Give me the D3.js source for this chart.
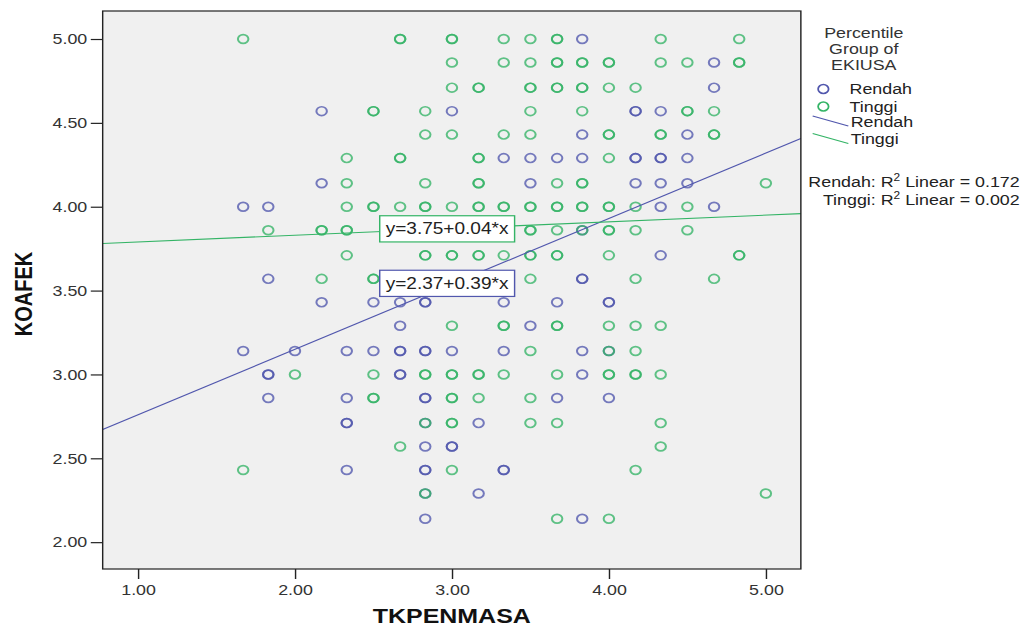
<!DOCTYPE html>
<html>
<head>
<meta charset="utf-8">
<script src="https://cdn.jsdelivr.net/npm/d3@7"></script>
<style>
  body { margin: 0; background: #fff; }
  svg { display: block; font-family: "Liberation Sans", Arial, sans-serif; }
</style>
</head>
<body>
<script>
// tick values
let xTicks = [1, 2, 3, 4, 5];
let yTicks = [2, 2.5, 3, 3.5, 4, 4.5, 5];

// Percentile group "Rendah" (TKPENMASA, KOAFEK); repeated pairs = overlapping cases
let rendahPoints = [
  [3.83,5.00],
  [4.67,4.86],
  [4.67,4.71],
  [2.17,4.57],[3.00,4.57],[4.17,4.57],[4.17,4.57],[4.33,4.57],
  [3.83,4.43],[4.50,4.43],
  [3.33,4.29],[3.50,4.29],[3.67,4.29],[3.83,4.29],[4.17,4.29],[4.17,4.29],[4.33,4.29],[4.33,4.29],[4.50,4.29],
  [2.17,4.14],[3.50,4.14],[4.17,4.14],[4.33,4.14],[4.50,4.14],
  [1.67,4.00],[1.83,4.00],[4.33,4.00],[4.67,4.00],
  [3.83,3.86],
  [4.33,3.71],
  [1.83,3.57],[3.83,3.57],[3.83,3.57],
  [2.17,3.43],[2.50,3.43],[2.67,3.43],[2.83,3.43],[2.83,3.43],[3.33,3.43],[3.67,3.43],[4.00,3.43],[4.00,3.43],
  [2.67,3.29],[3.50,3.29],
  [1.67,3.14],[2.00,3.14],[2.33,3.14],[2.50,3.14],[2.67,3.14],[2.67,3.14],[2.83,3.14],[2.83,3.14],[3.00,3.14],[3.33,3.14],[3.83,3.14],[4.00,3.14],
  [1.83,3.00],[1.83,3.00],[2.67,3.00],[2.67,3.00],[3.83,3.00],
  [1.83,2.86],[2.33,2.86],[2.83,2.86],[2.83,2.86],[3.67,2.86],[4.00,2.86],
  [2.33,2.71],[2.33,2.71],[2.83,2.71],[3.17,2.71],
  [2.83,2.57],[3.00,2.57],[3.00,2.57],
  [2.33,2.43],[2.83,2.43],[2.83,2.43],[3.33,2.43],[3.33,2.43],
  [2.83,2.29],[3.17,2.29],
  [2.83,2.14],[3.83,2.14]
];

// Percentile group "Tinggi"
let tinggiPoints = [
  [1.67,5.00],[2.67,5.00],[2.67,5.00],[3.00,5.00],[3.00,5.00],[3.33,5.00],[3.50,5.00],[3.67,5.00],[3.67,5.00],[4.33,5.00],[4.83,5.00],
  [3.00,4.86],[3.33,4.86],[3.50,4.86],[3.67,4.86],[3.67,4.86],[3.83,4.86],[3.83,4.86],[4.00,4.86],[4.00,4.86],[4.33,4.86],[4.50,4.86],[4.83,4.86],[4.83,4.86],
  [3.00,4.71],[3.17,4.71],[3.17,4.71],[3.50,4.71],[3.50,4.71],[3.67,4.71],[3.67,4.71],[3.83,4.71],[3.83,4.71],[4.00,4.71],[4.17,4.71],
  [2.50,4.57],[2.50,4.57],[2.83,4.57],[3.50,4.57],[3.83,4.57],[4.50,4.57],[4.50,4.57],[4.67,4.57],
  [2.83,4.43],[3.00,4.43],[3.33,4.43],[3.50,4.43],[4.00,4.43],[4.00,4.43],[4.33,4.43],[4.33,4.43],[4.67,4.43],[4.67,4.43],
  [2.33,4.29],[2.67,4.29],[2.67,4.29],[3.17,4.29],[3.17,4.29],[4.00,4.29],
  [2.33,4.14],[2.83,4.14],[3.17,4.14],[3.17,4.14],[3.67,4.14],[3.83,4.14],[3.83,4.14],[5.00,4.14],
  [2.33,4.00],[2.50,4.00],[2.50,4.00],[2.67,4.00],[2.83,4.00],[2.83,4.00],[3.00,4.00],[3.17,4.00],[3.17,4.00],[3.33,4.00],[3.33,4.00],
  [3.50,4.00],[3.50,4.00],[3.67,4.00],[3.67,4.00],[3.83,4.00],[3.83,4.00],[4.00,4.00],[4.00,4.00],[4.17,4.00],[4.50,4.00],
  [1.83,3.86],[2.17,3.86],[2.17,3.86],[2.33,3.86],[2.33,3.86],[3.50,3.86],[3.50,3.86],[3.67,3.86],[3.83,3.86],[4.00,3.86],[4.00,3.86],[4.17,3.86],[4.50,3.86],
  [2.33,3.71],[2.83,3.71],[2.83,3.71],[3.00,3.71],[3.00,3.71],[3.17,3.71],[3.17,3.71],[3.33,3.71],[3.50,3.71],[3.50,3.71],[3.67,3.71],[3.67,3.71],[4.00,3.71],[4.83,3.71],[4.83,3.71],
  [2.17,3.57],[2.50,3.57],[2.50,3.57],[3.50,3.57],[4.17,3.57],[4.67,3.57],
  [3.00,3.29],[3.33,3.29],[3.33,3.29],[3.67,3.29],[3.67,3.29],[4.00,3.29],[4.17,3.29],[4.33,3.29],
  [3.50,3.14],[4.00,3.14],[4.17,3.14],
  [2.00,3.00],[2.50,3.00],[2.83,3.00],[2.83,3.00],[3.00,3.00],[3.00,3.00],[3.17,3.00],[3.17,3.00],[3.33,3.00],[3.67,3.00],[4.00,3.00],[4.00,3.00],[4.17,3.00],[4.17,3.00],[4.33,3.00],
  [2.50,2.86],[2.50,2.86],[3.00,2.86],[3.00,2.86],[3.17,2.86],[3.50,2.86],
  [2.83,2.71],[3.00,2.71],[3.00,2.71],[3.50,2.71],[3.67,2.71],[4.33,2.71],
  [2.67,2.57],[4.33,2.57],
  [1.67,2.43],[3.00,2.43],[4.17,2.43],
  [2.83,2.29],[5.00,2.29],
  [3.67,2.14],[4.00,2.14]
];

// fit lines: intercept, slope
let groups = ["Rendah", "Tinggi"];
let fitIntercepts = [2.37, 3.75];
let fitSlopes = [0.39, 0.04];
let rSquared = [0.172, 0.002];

function chartConfig(){
    // the reference is stretched sideways, so draw in a narrower box and let the viewBox widen it
    let width = 864;
    let height = 628;
    let margin = { top: 11, bottom: 59, left: 86.3, right: 190.9 };
    let bodyWidth = width - margin.left - margin.right;
    let bodyHeight = height - margin.top - margin.bottom;
    let container = d3.select("body").append("svg")
        .attr("width", 1028)
        .attr("height", 628)
        .attr("viewBox", `0 0 ${width} ${height}`)
        .attr("preserveAspectRatio", "none");
    return { width, height, margin, bodyWidth, bodyHeight, container };
}

function getScales(config){
    let { margin, bodyWidth, bodyHeight } = config;
    let xScale = d3.scaleLinear()
        .domain([0.775, 5.223])
        .range([margin.left, margin.left + bodyWidth]);
    let yScale = d3.scaleLinear()
        .domain([1.84, 5.167])
        .range([margin.top + bodyHeight, margin.top]);
    let cScale = d3.scaleOrdinal()
        .domain(groups)
        .range(["#5157ad", "#34b466"]);
    return { xScale, yScale, cScale };
}

function drawBody(scales, config){
    let { xScale, yScale, cScale } = scales;
    let { container, margin, bodyWidth, bodyHeight } = config;

    container.append("rect")
        .attr("x", margin.left)
        .attr("y", margin.top)
        .attr("width", bodyWidth)
        .attr("height", bodyHeight)
        .attr("fill", "#f0f0f0");

    let sets = [rendahPoints, tinggiPoints];
    sets.forEach((pts, i) => {
        container.append("g")
            .selectAll("circle")
            .data(pts)
            .enter().append("circle")
            .attr("cx", d => xScale(d[0]))
            .attr("cy", d => yScale(d[1]))
            .attr("r", 4.4)
            .attr("fill", "none")
            .attr("stroke", cScale(groups[i]))
            .attr("stroke-width", 1.7)
            .attr("stroke-opacity", 0.78);
    });

    // fit lines
    let [x0, x1] = xScale.domain();
    groups.forEach((g, i) => {
        container.append("line")
            .attr("x1", xScale(x0))
            .attr("x2", xScale(x1))
            .attr("y1", yScale(fitIntercepts[i] + fitSlopes[i] * x0))
            .attr("y2", yScale(fitIntercepts[i] + fitSlopes[i] * x1))
            .attr("stroke", cScale(g))
            .attr("stroke-width", 1.1);
    });

    // equation boxes
    let boxY = [3.544, 3.869];
    groups.forEach((g, i) => {
        let label = container.append("g");
        let txt = label.append("text")
            .attr("x", xScale(2.54) + 5)
            .attr("y", yScale(boxY[i]))
            .attr("dy", "0.35em")
            .style("font-size", "16px")
            .style("fill", "#222")
            .text(`y=${fitIntercepts[i].toFixed(2)}+${fitSlopes[i].toFixed(2)}*x`);
        let bb = txt.node().getBBox();
        label.insert("rect", "text")
            .attr("x", bb.x - 5)
            .attr("y", bb.y - 4)
            .attr("width", bb.width + 10)
            .attr("height", bb.height + 8)
            .attr("fill", "#fff")
            .attr("stroke", cScale(g))
            .attr("stroke-width", 1.2);
    });

    container.append("rect")
        .attr("x", margin.left)
        .attr("y", margin.top)
        .attr("width", bodyWidth)
        .attr("height", bodyHeight)
        .attr("fill", "none")
        .attr("stroke", "#222")
        .attr("stroke-width", 1.2);
}

function drawAxes(scales, config){
    let { xScale, yScale } = scales;
    let { container, margin, bodyHeight, bodyWidth } = config;

    let axisX = d3.axisBottom(xScale)
        .tickValues(xTicks)
        .tickFormat(d3.format(".2f"))
        .tickSize(10)
        .tickPadding(5);
    let gx = container.append("g")
        .attr("transform", `translate(0,${margin.top + bodyHeight})`)
        .call(axisX);

    let axisY = d3.axisLeft(yScale)
        .tickValues(yTicks)
        .tickFormat(d3.format(".2f"))
        .tickSize(10)
        .tickPadding(3);
    let gy = container.append("g")
        .attr("transform", `translate(${margin.left},0)`)
        .call(axisY);

    [gx, gy].forEach(g => {
        g.select(".domain").remove();
        g.selectAll("line").attr("stroke", "#222").attr("stroke-width", 1.2);
        g.selectAll("text")
            .style("font-family", "'Liberation Sans', Arial, sans-serif")
            .style("font-size", "15px")
            .style("fill", "#333");
    });

    container.append("text")
        .attr("x", margin.left + bodyWidth / 2)
        .attr("y", 623)
        .attr("text-anchor", "middle")
        .style("font-size", "21px")
        .style("font-weight", "bold")
        .style("fill", "#111")
        .text("TKPENMASA");

    container.append("text")
        .attr("transform", "translate(26.5,294) rotate(-90)")
        .attr("text-anchor", "middle")
        .style("font-size", "20px")
        .style("font-weight", "bold")
        .style("fill", "#111")
        .text("KOAFEK");
}

function legend(scales, config){
    let { cScale } = scales;
    let { container } = config;

    let title = ["Percentile", "Group of", "EKIUSA"];
    container.append("g")
        .selectAll("text")
        .data(title)
        .enter().append("text")
        .attr("x", 726)
        .attr("y", (d, i) => 38 + i * 16)
        .attr("text-anchor", "middle")
        .style("font-size", "15px")
        .style("fill", "#333")
        .text(d => d);

    groups.forEach((g, i) => {
        let cy = 89 + i * 17.5;
        container.append("circle")
            .attr("cx", 692)
            .attr("cy", cy)
            .attr("r", 4.4)
            .attr("fill", "none")
            .attr("stroke", cScale(g))
            .attr("stroke-width", 1.5);
        container.append("text")
            .attr("x", 714)
            .attr("y", cy + 5.3)
            .style("font-size", "15px")
            .style("fill", "#222")
            .text(g);

        let ly = 116 + i * 17.5;
        container.append("line")
            .attr("x1", 683)
            .attr("y1", ly)
            .attr("x2", 713)
            .attr("y2", ly + 10)
            .attr("stroke", cScale(g))
            .attr("stroke-width", 1.1);
        container.append("text")
            .attr("x", 715)
            .attr("y", ly + 11)
            .style("font-size", "15px")
            .style("fill", "#222")
            .text(g);

        let t = container.append("text")
            .attr("x", 857)
            .attr("y", 187 + i * 18)
            .attr("text-anchor", "end")
            .style("font-size", "15px")
            .style("fill", "#222");
        t.append("tspan").text(`${g}: R`);
        t.append("tspan").attr("dy", -6).style("font-size", "10px").text("2");
        t.append("tspan").attr("dy", 6).text(` Linear = ${rSquared[i].toFixed(3)}`);
    });
}

let config = chartConfig();
let scales = getScales(config);
drawBody(scales, config);
drawAxes(scales, config);
legend(scales, config);
</script>
</body>
</html>
